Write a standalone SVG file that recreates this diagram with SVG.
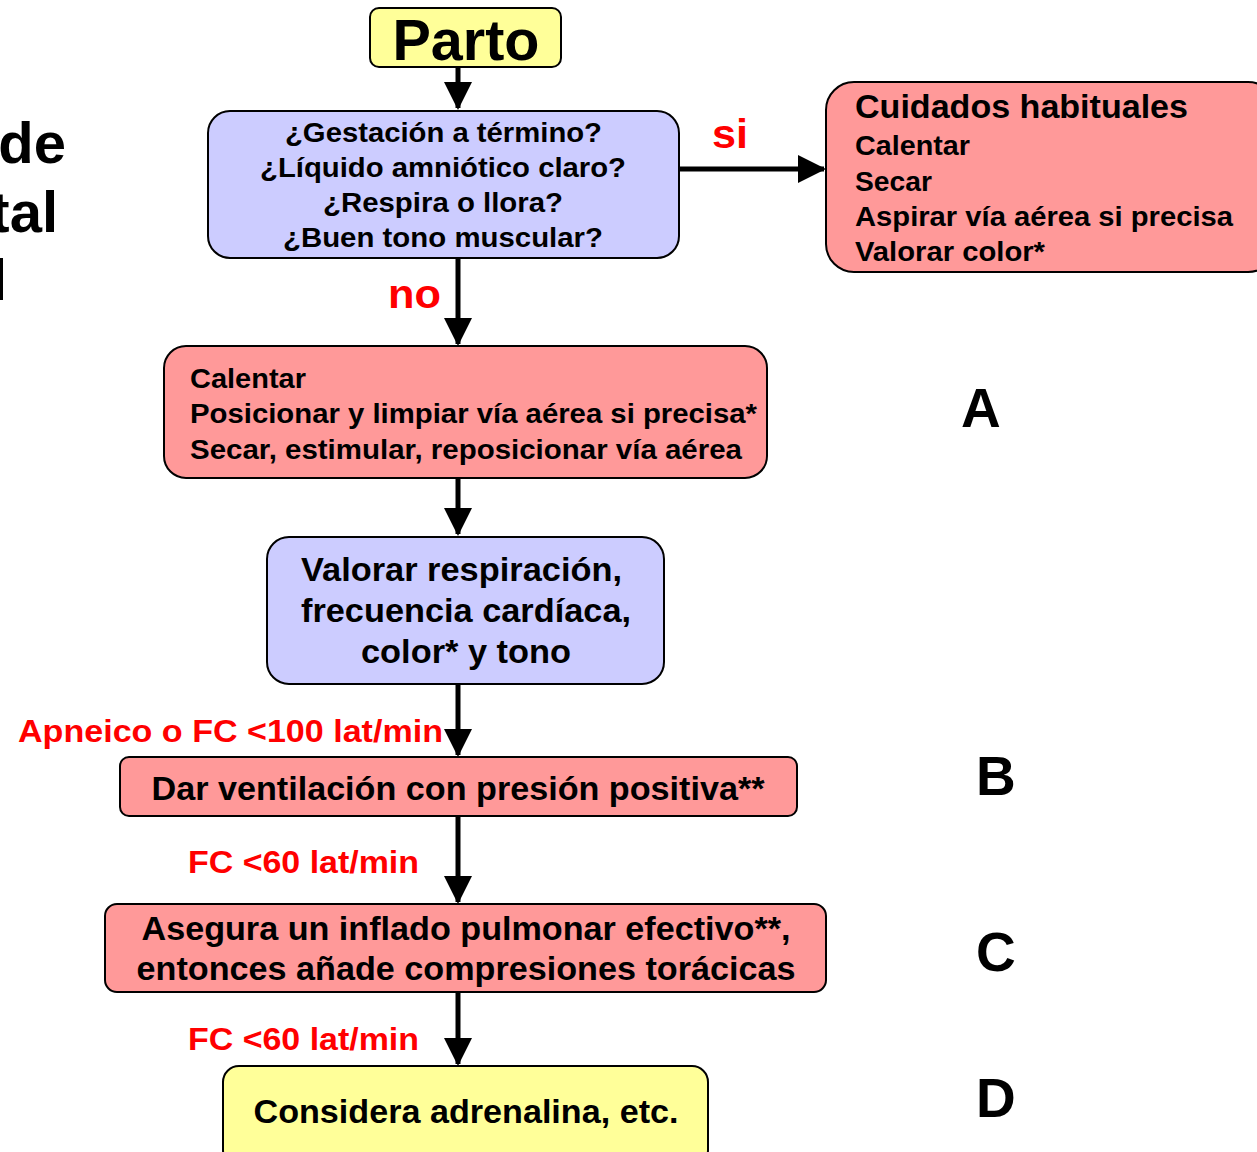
<svg xmlns="http://www.w3.org/2000/svg" width="1257" height="1152" viewBox="0 0 1257 1152">
<style>
.box{stroke:#000;stroke-width:2}
.y{fill:#FFFF99}.b{fill:#CCCCFF}.p{fill:#FF9999}
text{font-family:"Liberation Sans",Arial,sans-serif;font-weight:bold;fill:#000}
.red{fill:#FF0000}
.c{text-anchor:middle}
.conn{stroke:#000;stroke-width:5;fill:none}
</style>
<defs>
<marker id="ah" markerUnits="userSpaceOnUse" markerWidth="28" markerHeight="28" refX="26" refY="14" orient="auto">
<path d="M0,0 L28,14 L0,28 z" fill="#000"/>
</marker>
</defs>
<rect width="1257" height="1152" fill="#fff"/>
<g id="side">
<text x="66" y="163" font-size="58" text-anchor="end">de</text>
<text x="58" y="232" font-size="58" text-anchor="end">tal</text>
<rect x="0" y="258" width="3" height="42" fill="#000"/>
</g>
<g id="connectors">
<path class="conn" d="M458,67 V108" marker-end="url(#ah)"/>
<path class="conn" d="M679,169 H824" marker-end="url(#ah)"/>
<path class="conn" d="M458,258 V344" marker-end="url(#ah)"/>
<path class="conn" d="M458,478 V534" marker-end="url(#ah)"/>
<path class="conn" d="M458,684 V755" marker-end="url(#ah)"/>
<path class="conn" d="M458,816 V902" marker-end="url(#ah)"/>
<path class="conn" d="M458,992 V1064" marker-end="url(#ah)"/>
<text class="red" x="712" y="148" font-size="40" textLength="36" lengthAdjust="spacingAndGlyphs">si</text>
<text class="red" x="388" y="308" font-size="40" textLength="53" lengthAdjust="spacingAndGlyphs">no</text>
<text class="red" x="18" y="742" font-size="32" textLength="425" lengthAdjust="spacingAndGlyphs">Apneico o FC &lt;100 lat/min</text>
<text class="red" x="188" y="873" font-size="32" textLength="231" lengthAdjust="spacingAndGlyphs">FC &lt;60 lat/min</text>
<text class="red" x="188" y="1050" font-size="32" textLength="231" lengthAdjust="spacingAndGlyphs">FC &lt;60 lat/min</text>
</g>
<g id="parto">
<rect class="box y" x="370" y="8" width="191" height="59" rx="9"/>
<text class="c" x="466" y="60" font-size="57" textLength="147" lengthAdjust="spacingAndGlyphs">Parto</text>
</g>
<g id="preguntas">
<rect class="box b" x="208" y="111" width="471" height="147" rx="22"/>
<text x="285" y="142" font-size="27" textLength="317" lengthAdjust="spacingAndGlyphs">¿Gestación a término?</text>
<text x="260" y="177" font-size="27" textLength="366" lengthAdjust="spacingAndGlyphs">¿Líquido amniótico claro?</text>
<text x="323" y="212" font-size="27" textLength="240" lengthAdjust="spacingAndGlyphs">¿Respira o llora?</text>
<text x="283" y="247" font-size="27" textLength="320" lengthAdjust="spacingAndGlyphs">¿Buen tono muscular?</text>
</g>
<g id="cuidados">
<rect class="box p" x="826" y="82" width="450" height="190" rx="28"/>
<text x="855" y="118" font-size="34" textLength="333" lengthAdjust="spacingAndGlyphs">Cuidados habituales</text>
<text x="855" y="155" font-size="28" textLength="115" lengthAdjust="spacingAndGlyphs">Calentar</text>
<text x="855" y="191" font-size="28" textLength="77" lengthAdjust="spacingAndGlyphs">Secar</text>
<text x="855" y="226" font-size="28" textLength="378" lengthAdjust="spacingAndGlyphs">Aspirar vía aérea si precisa</text>
<text x="855" y="261" font-size="28" textLength="190" lengthAdjust="spacingAndGlyphs">Valorar color*</text>
</g>
<g id="pasoA">
<rect class="box p" x="164" y="346" width="603" height="132" rx="22"/>
<text x="190" y="388" font-size="27" textLength="116" lengthAdjust="spacingAndGlyphs">Calentar</text>
<text x="190" y="423" font-size="27" textLength="567" lengthAdjust="spacingAndGlyphs">Posicionar y limpiar vía aérea si precisa*</text>
<text x="190" y="459" font-size="27" textLength="552" lengthAdjust="spacingAndGlyphs">Secar, estimular, reposicionar vía aérea</text>
</g>
<g id="valorar">
<rect class="box b" x="267" y="537" width="397" height="147" rx="22"/>
<text x="301" y="581" font-size="34" textLength="321" lengthAdjust="spacingAndGlyphs">Valorar respiración,</text>
<text x="301" y="622" font-size="34" textLength="330" lengthAdjust="spacingAndGlyphs">frecuencia cardíaca,</text>
<text x="361" y="663" font-size="34" textLength="210" lengthAdjust="spacingAndGlyphs">color* y tono</text>
</g>
<g id="pasoB">
<rect class="box p" x="120" y="757" width="677" height="59" rx="9"/>
<text class="c" x="458" y="800" font-size="33" textLength="613" lengthAdjust="spacingAndGlyphs">Dar ventilación con presión positiva**</text>
</g>
<g id="pasoC">
<rect class="box p" x="105" y="904" width="721" height="88" rx="12"/>
<text class="c" x="466" y="940" font-size="33" textLength="649" lengthAdjust="spacingAndGlyphs">Asegura un inflado pulmonar efectivo**,</text>
<text class="c" x="466" y="980" font-size="33" textLength="659" lengthAdjust="spacingAndGlyphs">entonces añade compresiones torácicas</text>
</g>
<g id="pasoD">
<rect class="box y" x="223" y="1066" width="485" height="100" rx="16"/>
<text class="c" x="466" y="1123" font-size="33" textLength="425" lengthAdjust="spacingAndGlyphs">Considera adrenalina, etc.</text>
</g>
<g id="letras">
<text x="961" y="427" font-size="55">A</text>
<text x="976" y="795" font-size="55">B</text>
<text x="976" y="971" font-size="55">C</text>
<text x="976" y="1117" font-size="55">D</text>
</g>
</svg>
